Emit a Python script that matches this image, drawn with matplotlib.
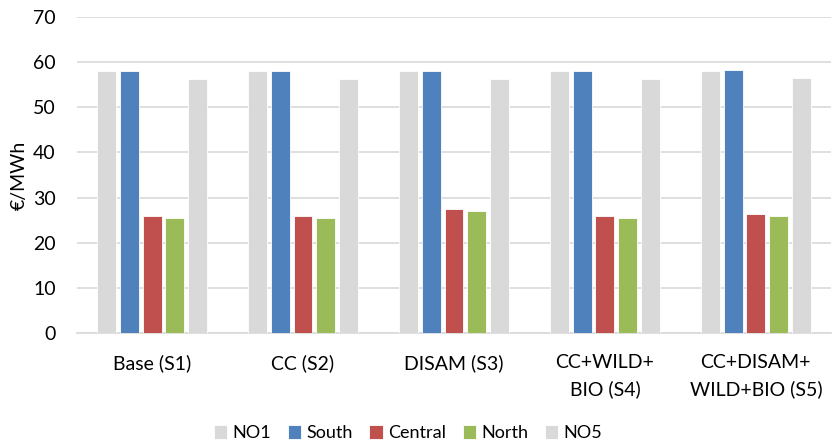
import numpy as np
import matplotlib.pyplot as plt

plt.rcParams['font.family'] = ['Lato', 'DejaVu Sans']

scenarios = ["Base (S1)", "CC (S2)", "DISAM (S3)", "CC+WILD+\nBIO (S4)", "CC+DISAM+\nWILD+BIO (S5)"]
series = ["NO1", "South", "Central", "North", "NO5"]
no1 = [58.0, 58.0, 58.0, 58.0, 58.1]
south = [58.0, 58.0, 58.0, 58.0, 58.2]
central = [26.0, 26.0, 27.5, 25.9, 26.4]
north = [25.5, 25.5, 27.0, 25.4, 25.9]
no5 = [56.3, 56.3, 56.3, 56.3, 56.4]
colors = ["#d9d9d9", "#4f81bd", "#c0504d", "#9bbb59", "#d9d9d9"]

values = [no1, south, central, north, no5]

fig = plt.figure(figsize=(8.33, 4.43), dpi=100)
ax = fig.add_axes([0.092, 0.248, 0.906, 0.714])

x = np.arange(len(scenarios))
step = 0.151
width = 0.125
for i, (name, vals) in enumerate(zip(series, values)):
    ax.bar(x + (i - 2) * step, vals, width, color=colors[i], label=name,
           edgecolor="white", linewidth=0.6, zorder=3)

ax.set_xlim(-0.5, len(scenarios) - 0.5)
ax.set_ylim(0, 70)
ax.set_yticks(range(0, 71, 10))
ax.set_xticks(x)
ax.set_xticklabels(scenarios, fontsize=14, linespacing=1.6)
ax.tick_params(axis="y", labelsize=14, length=0, pad=15)
ax.tick_params(axis="x", length=0, pad=15)
ax.set_ylabel("€/MWh", fontsize=14, labelpad=4)
ax.grid(axis="y", color="#d9d9d9", linewidth=1.2, zorder=0)
for s in ["top", "right", "left"]:
    ax.spines[s].set_visible(False)
ax.spines["bottom"].set_color("#d9d9d9")
ax.spines["bottom"].set_linewidth(1.2)

fig.legend(loc="center", bbox_to_anchor=(0.49, 0.022), ncol=5, frameon=False,
           fontsize=13, handlelength=0.75, handleheight=0.75, handletextpad=0.3,
           columnspacing=0.9)

fig.savefig("out.png", dpi=100)
